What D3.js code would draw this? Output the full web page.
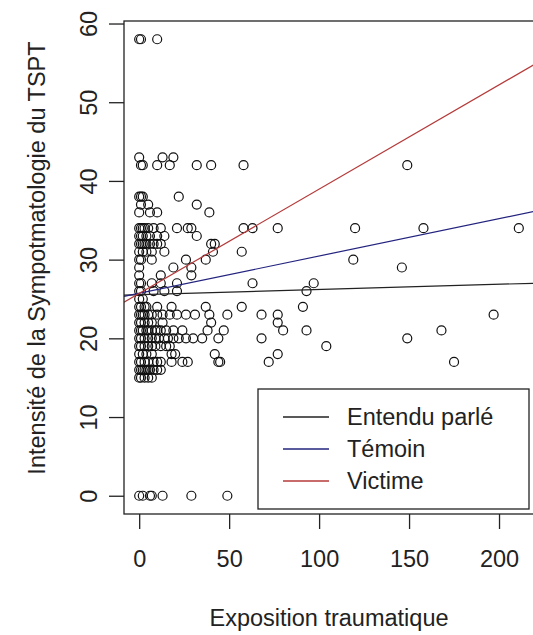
<!DOCTYPE html>
<html>
<head>
<meta charset="utf-8">
<script src="https://cdn.jsdelivr.net/npm/d3@7"></script>
<style>
  html, body { margin: 0; padding: 0; background: #fff; }
  svg { display: block; }
  text { font-family: "Liberation Sans", Arial, sans-serif; fill: #222; }
</style>
</head>
<body>
<svg id="chart" width="533" height="635"></svg>
<script>
// ---- data ----
const xTicks = [0, 50, 100, 150, 200];
const yTicks = [0, 10, 20, 30, 40, 50, 60];
const xTitle = "Exposition traumatique";
const yTitle = "Intensité de la Sympotmatologie du TSPT";

// symptom score levels, and the exposure values of the points on each level
const scoreLevels = [58, 43, 42, 38, 37, 36, 34, 33, 32, 31, 30, 29, 28, 27, 26, 25, 24, 23, 22, 21, 20, 19, 18, 17, 16, 15, 0];
const exposureByLevel = [
  [0, 1, 10],
  [0, 13, 19],
  [1, 2, 10, 17, 32, 40, 58, 149],
  [0, 1, 2, 22],
  [1, 5, 32],
  [0, 6, 10, 39],
  [0, 1, 2, 3, 5, 8, 12, 21, 27, 29, 58, 63, 77, 120, 158, 211],
  [0, 1, 2, 4, 6, 10, 14, 32],
  [0, 1, 2, 3, 4, 6, 8, 10, 12, 40, 42],
  [0, 2, 4, 7, 14, 41, 57],
  [0, 1, 7, 26, 37, 119],
  [0, 19, 29, 146],
  [0, 12, 29],
  [0, 1, 7, 12, 21, 63, 97],
  [0, 1, 8, 14, 21, 93],
  [0, 2],
  [0, 1, 3, 4, 10, 18, 37, 57, 91],
  [0, 1, 2, 3, 5, 7, 10, 13, 17, 21, 26, 31, 39, 49, 68, 77, 197],
  [0, 1, 3, 5, 7, 13, 40, 77],
  [0, 1, 2, 4, 5, 7, 9, 10, 12, 15, 19, 24, 38, 47, 80, 93, 168],
  [0, 1, 3, 5, 7, 9, 11, 14, 16, 19, 22, 26, 30, 35, 44, 68, 149],
  [0, 1, 3, 5, 7, 9, 12, 15, 17, 104],
  [0, 2, 4, 7, 18, 20, 42, 77],
  [0, 1, 3, 5, 8, 10, 12, 18, 24, 27, 44, 45, 72, 175],
  [0, 1, 2, 3, 4, 5, 6, 8, 10, 12],
  [0, 1, 3, 5, 7],
  [0, 2, 6, 7, 13, 29, 49]
];

// regression lines (abline)
const lineNames = ["Entendu parlé", "Témoin", "Victime"];
const lineIntercepts = [25.55, 25.72, 25.7];
const lineSlopes = [0.0066, 0.0474, 0.1325];
const lineColors = ["#222222", "#23237f", "#b53a3a"];

// ---- build ----
const points = [];
scoreLevels.forEach((s, i) => exposureByLevel[i].forEach(e => points.push({x: e, y: s})));

const svg = d3.select("#chart");
const pLeft = 124, pRight = 534, pTop = 21, pBottom = 514;

const x = d3.scaleLinear().domain([-8.44, 219.44]).range([pLeft, pRight]);
const y = d3.scaleLinear().domain([-2.32, 60.32]).range([pBottom, pTop]);

svg.append("defs").append("clipPath").attr("id", "plotclip")
  .append("rect").attr("x", pLeft).attr("y", pTop)
  .attr("width", pRight - pLeft).attr("height", pBottom - pTop);

const fs = 23.5;

// points
svg.append("g")
  .selectAll("circle").data(points).join("circle")
  .attr("cx", d => x(d.x)).attr("cy", d => y(d.y)).attr("r", 4.5)
  .attr("fill", "none").attr("stroke", "#111").attr("stroke-width", 1.2);

// regression lines
const gl = svg.append("g").attr("clip-path", "url(#plotclip)");
lineNames.forEach((n, i) => {
  const [x0, x1] = x.domain();
  gl.append("line")
    .attr("x1", x(x0)).attr("y1", y(lineIntercepts[i] + lineSlopes[i] * x0))
    .attr("x2", x(x1)).attr("y2", y(lineIntercepts[i] + lineSlopes[i] * x1))
    .attr("stroke", lineColors[i]).attr("stroke-width", 1.2);
});

// box
svg.append("rect").attr("x", pLeft).attr("y", pTop)
  .attr("width", pRight - pLeft).attr("height", pBottom - pTop)
  .attr("fill", "none").attr("stroke", "#222").attr("stroke-width", 1.3);

// x axis
const xAxis = d3.axisBottom(x).tickValues(xTicks).tickSize(15).tickPadding(0).tickFormat(d3.format("d"));
const gx = svg.append("g").attr("transform", `translate(0,${pBottom})`).call(xAxis);
gx.select(".domain").remove();
gx.selectAll(".tick line").attr("stroke", "#222").attr("stroke-width", 1.3);
gx.selectAll(".tick text").attr("font-size", fs).attr("y", 53).attr("dy", 0)
  .attr("fill", "#222").style("font-family", "'Liberation Sans', Arial, sans-serif");

// y axis
const yAxis = d3.axisLeft(y).tickValues(yTicks).tickSize(15).tickPadding(0).tickFormat(d3.format("d"));
const gy = svg.append("g").attr("transform", `translate(${pLeft},0)`).call(yAxis);
gy.select(".domain").remove();
gy.selectAll(".tick line").attr("stroke", "#222").attr("stroke-width", 1.3);
gy.selectAll(".tick text")
  .attr("x", 0).attr("dy", 0)
  .attr("transform", "translate(-27,0) rotate(-90)")
  .attr("text-anchor", "middle")
  .attr("font-size", fs).attr("fill", "#222")
  .style("font-family", "'Liberation Sans', Arial, sans-serif");

// axis titles
svg.append("text").attr("x", (pLeft + pRight) / 2).attr("y", 626)
  .attr("text-anchor", "middle").attr("font-size", fs).text(xTitle);
svg.append("text").attr("transform", `translate(45,${258}) rotate(-90)`)
  .attr("text-anchor", "middle").attr("font-size", fs).text(yTitle);

// legend
const lg = svg.append("g");
lg.append("rect").attr("x", 258).attr("y", 389).attr("width", 271).attr("height", 120)
  .attr("fill", "#fff").attr("stroke", "#222").attr("stroke-width", 1.3);
lineNames.forEach((n, i) => {
  const ly = 417 + i * 32;
  lg.append("line").attr("x1", 283).attr("x2", 329).attr("y1", ly).attr("y2", ly)
    .attr("stroke", lineColors[i]).attr("stroke-width", 1.3);
  lg.append("text").attr("x", 347).attr("y", ly).attr("dy", "0.36em")
    .attr("font-size", fs).text(n);
});
</script>
</body>
</html>
